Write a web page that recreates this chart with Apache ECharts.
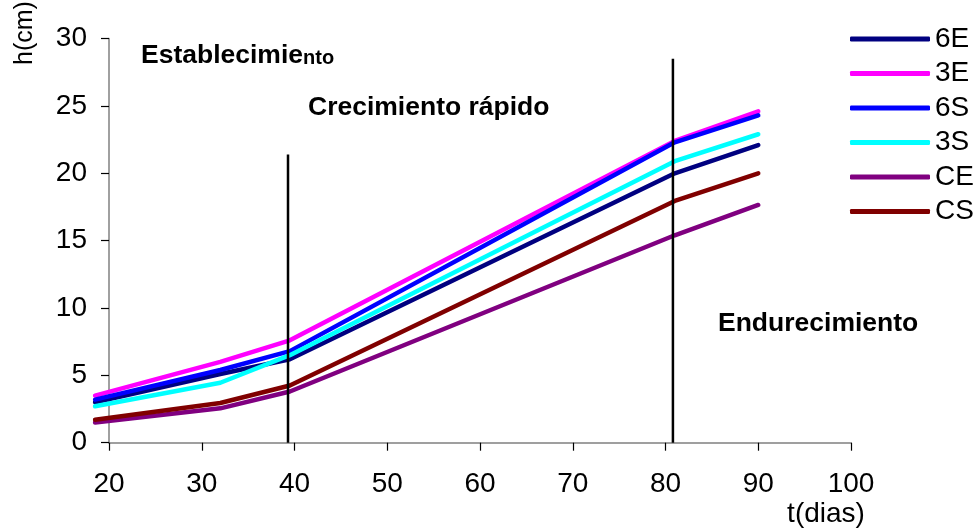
<!DOCTYPE html>
<html>
<head>
<meta charset="utf-8">
<script src="https://cdn.jsdelivr.net/npm/echarts@6/dist/echarts.min.js"></script>
<style>
  html, body { margin: 0; padding: 0; background: #fff; }
  #chart { width: 974px; height: 529px; }
</style>
</head>
<body>
<div id="chart"></div>
<script>
// Days of measurement (t, días)
const days = [18.5, 32, 39.5, 81, 90];

// Plant height h (cm) per treatment
const h6E = [3.0, 5.1, 6.2, 20.0, 22.1];
const h3E = [3.5, 6.0, 7.6, 22.4, 24.6];
const h6S = [3.2, 5.4, 6.8, 22.3, 24.3];
const h3S = [2.7, 4.45, 6.5, 20.9, 22.9];
const hCE = [1.5, 2.55, 3.8, 15.4, 17.65];
const hCS = [1.7, 2.95, 4.25, 17.95, 20.0];

const seriesNames = ['6E', '3E', '6S', '3S', 'CE', 'CS'];
const seriesColors = ['#000080', '#FF00FF', '#0000FF', '#00FFFF', '#800080', '#800000'];
const seriesValues = [h6E, h3E, h6S, h3S, hCE, hCS];

// Phase boundaries (day) and how tall each divider is drawn (cm)
const phaseDays = [39.3, 80.8];
const phaseTops = [21.4, 28.5];

// Axis ticks
const xTicks = { min: 20, max: 100, step: 10 };
const yTicks = { min: 0, max: 30, step: 5 };

const font = '"Liberation Sans", Arial, sans-serif';

// Plot frame in pixels
const plot = { left: 109, top: 38.6, width: 742, height: 404.1 };
const pxPerDay = plot.width / (xTicks.max - xTicks.min);
// The first measurement falls before the first tick, so the curves live on an
// invisible companion axis that starts at that day and extends the same scale.
const firstDay = Math.min.apply(null, days);
const lead = (xTicks.min - firstDay) * pxPerDay;

const lineSeries = seriesNames.map((name, i) => ({
  name: name,
  type: 'line',
  xAxisIndex: 1,
  yAxisIndex: 1,
  data: days.map((d, j) => [d, seriesValues[i][j]]),
  showSymbol: false,
  symbol: 'none',
  clip: false,
  silent: true,
  lineStyle: { color: seriesColors[i], width: 4.5, cap: 'round', join: 'round' },
  itemStyle: { color: seriesColors[i] },
  z: 3
}));

const dividerSeries = phaseDays.map((d, i) => ({
  name: 'fase' + i,
  type: 'line',
  data: [[d, 0], [d, phaseTops[i]]],
  showSymbol: false,
  symbol: 'none',
  silent: true,
  lineStyle: { color: '#000', width: 2.5 },
  z: 4
}));

const chart = echarts.init(document.getElementById('chart'), null, { renderer: 'canvas' });

chart.setOption({
  animation: false,
  backgroundColor: '#fff',
  textStyle: { fontFamily: font },
  grid: [
    { left: plot.left, top: plot.top, width: plot.width, height: plot.height, containLabel: false },
    { left: plot.left - lead, top: plot.top, width: plot.width + lead, height: plot.height, containLabel: false }
  ],
  xAxis: [
    {
      type: 'value', gridIndex: 0,
      min: xTicks.min, max: xTicks.max, interval: xTicks.step,
      axisLine: { lineStyle: { color: '#808080', width: 1.5 } },
      axisTick: { show: true, inside: false, length: 8, lineStyle: { color: '#000', width: 1.2 } },
      axisLabel: { fontSize: 28, color: '#000', margin: 28, fontFamily: font },
      splitLine: { show: false }
    },
    {
      type: 'value', gridIndex: 1,
      min: firstDay, max: xTicks.max,
      show: false
    }
  ],
  yAxis: [
    {
      type: 'value', gridIndex: 0,
      min: yTicks.min, max: yTicks.max, interval: yTicks.step,
      axisLine: { show: true, lineStyle: { color: '#808080', width: 1.5 } },
      axisTick: { show: true, inside: false, length: 8, lineStyle: { color: '#000', width: 1.2 } },
      axisLabel: { fontSize: 28, color: '#000', margin: 22, fontFamily: font },
      splitLine: { show: false }
    },
    {
      type: 'value', gridIndex: 1,
      min: yTicks.min, max: yTicks.max,
      show: false
    }
  ],
  legend: {
    data: seriesNames,
    orient: 'vertical',
    left: 845,
    top: 20,
    itemWidth: 80,
    itemHeight: 5,
    itemGap: 6.5,
    icon: 'roundRect',
    selectedMode: false,
    textStyle: { fontSize: 28, color: '#000', fontFamily: font, padding: [0, 0, 0, 0] }
  },
  graphic: [
    {
      // axis titles
      type: 'text', x: 25, y: 33, rotation: Math.PI / 2,
      style: { text: 'h(cm)', fontSize: 25, fontFamily: font, fill: '#000', align: 'center', verticalAlign: 'middle' }
    },
    {
      type: 'text', x: 826, y: 514,
      style: { text: 't(dias)', fontSize: 28, fontFamily: font, fill: '#000', align: 'center', verticalAlign: 'middle' }
    },
    {
      // growth phase labels
      type: 'text', left: 141, top: 42,
      style: {
        text: '{a|Establecimie}{b|nto}',
        rich: {
          a: { fontSize: 26.5, fontWeight: 'bold', fontFamily: font, fill: '#000' },
          b: { fontSize: 20, fontWeight: 'bold', fontFamily: font, fill: '#000', padding: [5, 0, 0, 0] }
        }
      }
    },
    {
      type: 'text', left: 308, top: 94,
      style: { text: 'Crecimiento rápido', fontSize: 26.5, fontWeight: 'bold', fontFamily: font, fill: '#000' }
    },
    {
      type: 'text', left: 718, top: 310,
      style: { text: 'Endurecimiento', fontSize: 26.5, fontWeight: 'bold', fontFamily: font, fill: '#000' }
    }
  ],
  series: lineSeries.concat(dividerSeries)
});
</script>
</body>
</html>
